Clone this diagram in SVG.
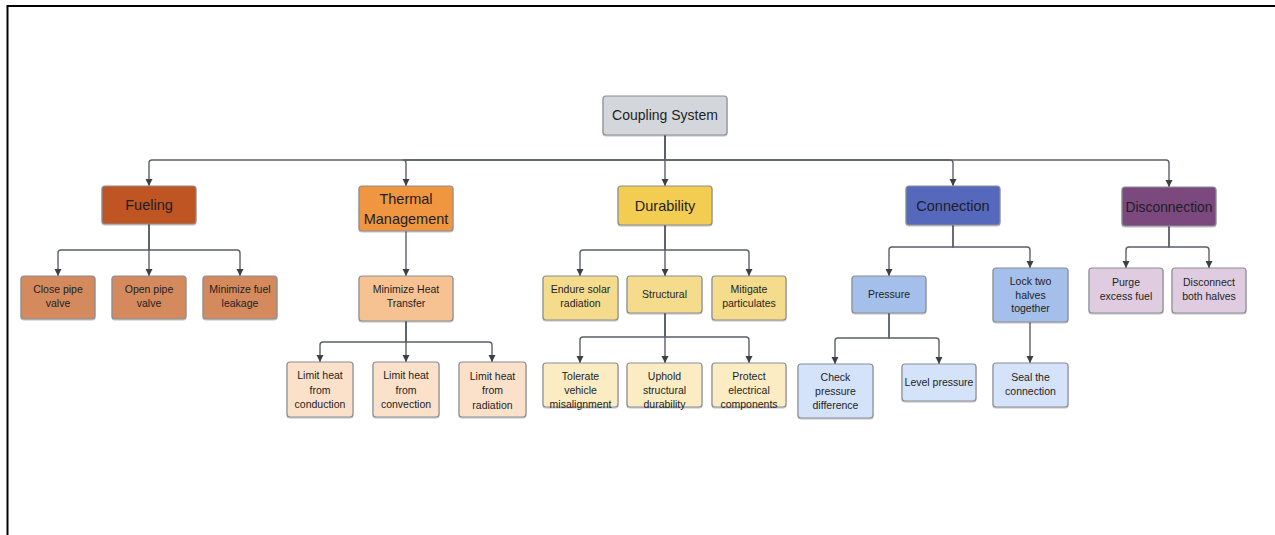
<svg xmlns="http://www.w3.org/2000/svg" width="1275" height="535" viewBox="0 0 1275 535">
<style>
text{font-family:"Liberation Sans",Arial,sans-serif;fill:#1e1e24;text-anchor:middle}
.t{font-size:14.5px}
.c{font-size:10.5px}
rect{stroke:#8a8d93;stroke-width:1.2;filter:url(#sh)}
.cn path{fill:none;stroke:#5b6068;stroke-width:1.4;marker-end:url(#ah)}
</style>
<defs>
<marker id="ah" markerUnits="userSpaceOnUse" markerWidth="8" markerHeight="8" refX="7" refY="4" orient="auto"><path d="M0,0.5 L7,4 L0,7.5 Z" fill="#3b4048"/></marker>
<filter id="sh" x="-10%" y="-10%" width="120%" height="130%"><feDropShadow dx="0" dy="1" stdDeviation="0.6" flood-color="#000" flood-opacity="0.25"/></filter>
</defs>
<rect x="0" y="0" width="1275" height="535" fill="#fff" style="stroke:none;filter:none"/>
<path d="M7.5,535 V6 H1275" fill="none" stroke="#000" stroke-width="2"/>
<g class="cn" id="connectors">
<path d="M665,135 V160 H152 Q149,160 149,163 V186"/>
<path d="M665,135 V160 H403 Q406,160 406,163 V186"/>
<path d="M665,135 V186"/>
<path d="M665,135 V160 H950 Q953,160 953,163 V186"/>
<path d="M665,135 V160 H1166 Q1169,160 1169,163 V187"/>
<path d="M149,224 V250 H61 Q58,250 58,253 V276"/>
<path d="M149,224 V276"/>
<path d="M149,224 V250 H237 Q240,250 240,253 V276"/>
<path d="M406,231 V276"/>
<path d="M406,321 V342 H323 Q320,342 320,345 V362"/>
<path d="M406,321 V362"/>
<path d="M406,321 V342 H489 Q492,342 492,345 V362"/>
<path d="M665,225 V250 H583 Q580,250 580,253 V276"/>
<path d="M665,225 V276"/>
<path d="M665,225 V250 H746 Q749,250 749,253 V276"/>
<path d="M665,313 V337 H583 Q580,337 580,340 V363"/>
<path d="M665,313 V363"/>
<path d="M665,313 V337 H746 Q749,337 749,340 V363"/>
<path d="M953,225 V247 H892 Q889,247 889,250 V276"/>
<path d="M953,225 V247 H1027 Q1030,247 1030,250 V268"/>
<path d="M889,313 V338 H838 Q835,338 835,341 V364"/>
<path d="M889,313 V338 H936 Q939,338 939,341 V364"/>
<path d="M1030,322 V363"/>
<path d="M1169,226 V247 H1129 Q1126,247 1126,250 V268"/>
<path d="M1169,226 V247 H1206 Q1209,247 1209,250 V268"/>
</g>
<g id="root"><rect x="603" y="96" width="124" height="39" rx="3" fill="#d3d6db"/><text x="665" y="120" font-size="14">Coupling System</text></g>
<g id="fueling"><rect x="102" y="186" width="94" height="38" rx="3" fill="#be5521"/><text class="t" x="149" y="210">Fueling</text></g>
<g id="thermal"><rect x="359" y="186" width="94" height="45" rx="3" fill="#f0953f"/><text class="t" x="406" y="204">Thermal</text><text class="t" x="406" y="224">Management</text></g>
<g id="durability"><rect x="618" y="186" width="94" height="39" rx="3" fill="#f2cd51"/><text class="t" x="665" y="211">Durability</text></g>
<g id="connection"><rect x="906" y="186" width="94" height="39" rx="3" fill="#5568bc"/><text class="t" x="953" y="211">Connection</text></g>
<g id="disconnection"><rect x="1122" y="187" width="94" height="39" rx="3" fill="#7c4a7e"/><text class="t" x="1169" y="212" textLength="87" lengthAdjust="spacingAndGlyphs">Disconnection</text></g>
<g id="close-pipe"><rect x="21" y="276" width="74" height="43" rx="3" fill="#d48a5b"/><text class="c" x="58" y="293">Close pipe</text><text class="c" x="58" y="307">valve</text></g>
<g id="open-pipe"><rect x="112" y="276" width="74" height="43" rx="3" fill="#d48a5b"/><text class="c" x="149" y="293">Open pipe</text><text class="c" x="149" y="307">valve</text></g>
<g id="min-fuel"><rect x="203" y="276" width="74" height="43" rx="3" fill="#d48a5b"/><text class="c" x="240" y="293">Minimize fuel</text><text class="c" x="240" y="307">leakage</text></g>
<g id="min-heat"><rect x="359" y="276" width="94" height="45" rx="3" fill="#f6c291"/><text class="c" x="406" y="293">Minimize Heat</text><text class="c" x="406" y="307">Transfer</text></g>
<g id="conduction"><rect x="287" y="362" width="66" height="55" rx="3" fill="#fbe1c9"/><text class="c" x="320" y="379">Limit heat</text><text class="c" x="320" y="393.5">from</text><text class="c" x="320" y="408">conduction</text></g>
<g id="convection"><rect x="373" y="362" width="66" height="55" rx="3" fill="#fbe1c9"/><text class="c" x="406" y="379">Limit heat</text><text class="c" x="406" y="393.5">from</text><text class="c" x="406" y="408">convection</text></g>
<g id="radiation"><rect x="459" y="362" width="67" height="55" rx="3" fill="#fbe1c9"/><text class="c" x="492.5" y="380">Limit heat</text><text class="c" x="492.5" y="394">from</text><text class="c" x="492.5" y="408.5">radiation</text></g>
<g id="endure"><rect x="543" y="276" width="75" height="44" rx="3" fill="#f5dc8d"/><text class="c" x="580.5" y="293">Endure solar</text><text class="c" x="580.5" y="307">radiation</text></g>
<g id="structural"><rect x="627" y="276" width="75" height="37" rx="3" fill="#f5dc8d"/><text class="c" x="664.5" y="298">Structural</text></g>
<g id="mitigate"><rect x="712" y="276" width="74" height="44" rx="3" fill="#f5dc8d"/><text class="c" x="749" y="293">Mitigate</text><text class="c" x="749" y="307">particulates</text></g>
<g id="tolerate"><rect x="543" y="363" width="75" height="44" rx="3" fill="#fbecc4"/><text class="c" x="580.5" y="380">Tolerate</text><text class="c" x="580.5" y="394">vehicle</text><text class="c" x="580.5" y="408">misalignment</text></g>
<g id="uphold"><rect x="627" y="363" width="75" height="44" rx="3" fill="#fbecc4"/><text class="c" x="664.5" y="380">Uphold</text><text class="c" x="664.5" y="394">structural</text><text class="c" x="664.5" y="408">durability</text></g>
<g id="protect"><rect x="712" y="363" width="74" height="44" rx="3" fill="#fbecc4"/><text class="c" x="749" y="380">Protect</text><text class="c" x="749" y="394">electrical</text><text class="c" x="749" y="408">components</text></g>
<g id="pressure"><rect x="852" y="276" width="74" height="37" rx="3" fill="#a4bfe9"/><text class="c" x="889" y="298">Pressure</text></g>
<g id="lock"><rect x="993" y="268" width="75" height="54" rx="3" fill="#a4bfe9"/><text class="c" x="1030.5" y="285">Lock two</text><text class="c" x="1030.5" y="298.5">halves</text><text class="c" x="1030.5" y="312">together</text></g>
<g id="check"><rect x="798" y="364" width="75" height="54" rx="3" fill="#d4e3f9"/><text class="c" x="835.5" y="381">Check</text><text class="c" x="835.5" y="395">pressure</text><text class="c" x="835.5" y="409">difference</text></g>
<g id="level"><rect x="902" y="364" width="74" height="37" rx="3" fill="#d4e3f9"/><text class="c" x="939" y="386">Level pressure</text></g>
<g id="seal"><rect x="993" y="363" width="75" height="44" rx="3" fill="#d4e3f9"/><text class="c" x="1030.5" y="381">Seal the</text><text class="c" x="1030.5" y="395">connection</text></g>
<g id="purge"><rect x="1089" y="268" width="74" height="45" rx="3" fill="#dfcce0"/><text class="c" x="1126" y="286">Purge</text><text class="c" x="1126" y="300">excess fuel</text></g>
<g id="disconnect-both"><rect x="1172" y="268" width="74" height="45" rx="3" fill="#dfcce0"/><text class="c" x="1209" y="286">Disconnect</text><text class="c" x="1209" y="300">both halves</text></g>
</svg>
